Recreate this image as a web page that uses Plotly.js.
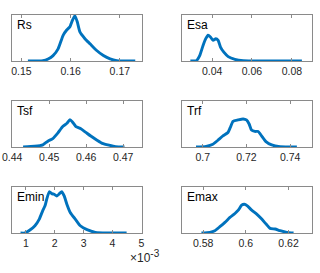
<!DOCTYPE html>
<html>
<head>
<meta charset="utf-8">
<script src="https://cdn.plot.ly/plotly-3.0.1.min.js"></script>
<style>html,body{margin:0;padding:0;background:#fff;}#chart{width:320px;height:273px;}</style>
</head>
<body>
<div id="chart"></div>
<script>
// Panel names
const names = ['Rs', 'Esa', 'Tsf', 'Trf', 'Emin', 'Emax'];

// Rs
const rsX = [0.15133,0.15440,0.15542,0.15644,0.15746,0.15848,0.15917,0.15985,0.16039,0.16087,0.16135,0.16189,0.16291,0.16394,0.16530,0.16666,0.16802,0.16939,0.17313];
const rsY = [0,1,6,16,36,76,91,101,121,134,116,86,66,51,31,16,6,1,0];
// Esa
const esaX = [0.02908,0.03210,0.03378,0.03546,0.03681,0.03798,0.03916,0.04050,0.04185,0.04303,0.04420,0.04588,0.04807,0.05143,0.05563,0.06403,0.08504];
const esaY = [0,1,16,46,66,76,71,61,66,61,41,26,13,5,1,0,0];
// Tsf
const tsfX = [0.44295,0.44607,0.44830,0.44964,0.45098,0.45232,0.45366,0.45482,0.45563,0.45634,0.45723,0.45857,0.45991,0.46125,0.46304,0.46438,0.46616,0.46795,0.47036];
const tsfY = [0,2,6,16,23,38,56,65,75,68,56,50,40,30,18,10,5,1,0];
// Trf
const trfX = [0.69692,0.70154,0.70462,0.70692,0.70923,0.71154,0.71262,0.71385,0.71615,0.71846,0.72000,0.72123,0.72231,0.72385,0.72538,0.72692,0.72892,0.73154,0.73538,0.74308];
const trfY = [0,2,8,20,33,43,58,76,80,83,80,68,50,46,46,33,16,6,1,0];
// Emin
const eminX = [0.814e-3,0.965e-3,1.140e-3,1.314e-3,1.465e-3,1.581e-3,1.663e-3,1.721e-3,1.814e-3,1.895e-3,1.977e-3,2.070e-3,2.163e-3,2.244e-3,2.326e-3,2.419e-3,2.535e-3,2.709e-3,2.884e-3,3.116e-3,3.407e-3,3.814e-3,4.488e-3];
const eminY = [0,0,9,22,42,67,82,102,125,119,117,112,119,125,112,87,62,42,22,10,2,0,0];
// Emax
const emaxX = [0.57922,0.58314,0.58549,0.58784,0.59020,0.59255,0.59490,0.59647,0.59804,0.59929,0.60071,0.60275,0.60510,0.60745,0.60949,0.61137,0.61373,0.61608,0.61922,0.62235];
const emaxY = [0,2,7,19,32,47,59,69,84,87,82,69,57,42,27,14,12,7,2,0];

// Tick values and labels
const rsTicks = [0.15, 0.16, 0.17];
const rsTickText = ['0.15', '0.16', '0.17'];
const esaTicks = [0.04, 0.06, 0.08];
const esaTickText = ['0.04', '0.06', '0.08'];
const tsfTicks = [0.44, 0.45, 0.46, 0.47];
const tsfTickText = ['0.44', '0.45', '0.46', '0.47'];
const trfTicks = [0.70, 0.72, 0.74];
const trfTickText = ['0.7', '0.72', '0.74'];
const eminTicks = [1e-3, 2e-3, 3e-3, 4e-3, 5e-3];
const eminTickText = ['1', '2', '3', '4', '5'];
const emaxTicks = [0.58, 0.60, 0.62];
const emaxTickText = ['0.58', '0.6', '0.62'];

const xs = [rsX, esaX, tsfX, trfX, eminX, emaxX];
const ys = [rsY, esaY, tsfY, trfY, eminY, emaxY];
const tv = [rsTicks, esaTicks, tsfTicks, trfTicks, eminTicks, emaxTicks];
const tt = [rsTickText, esaTickText, tsfTickText, trfTickText, eminTickText, emaxTickText];
const xr = [[0.1481,0.1745],[0.0249,0.0901],[0.43995,0.4751],[0.6905,0.7500],[0.52e-3,5.02e-3],[0.5701,0.6310]];
const yr = [[0,136],[0,136],[0,126],[0,136],[0,139],[0,139]];

const W = 320, H = 273;
const colPx = [[12,142],[182,312]];
const rowPx = [[15,61],[101,147],[187,233]];

const traces = [];
const layout = {
  width: W, height: H,
  margin: {l:0, r:0, t:0, b:0},
  paper_bgcolor: '#fff', plot_bgcolor: '#fff',
  showlegend: false,
  font: {family: 'Liberation Sans, Arial, sans-serif', size: 10, color: '#262626'},
  annotations: []
};
const axColor = '#8a8a8a';
for (let i = 0; i < 6; i++) {
  const c = i % 2, r = Math.floor(i / 2);
  const sfx = i === 0 ? '' : String(i + 1);
  traces.push({
    x: xs[i], y: ys[i], type: 'scatter', mode: 'lines',
    line: {color: '#0072BD', width: 2.9, shape: 'spline', smoothing: 0.5},
    xaxis: 'x' + sfx, yaxis: 'y' + sfx, hoverinfo: 'skip'
  });
  layout['xaxis' + sfx] = {
    domain: [colPx[c][0] / W, colPx[c][1] / W],
    anchor: 'y' + sfx,
    range: xr[i],
    tickmode: 'array', tickvals: tv[i], ticktext: tt[i],
    ticks: 'inside', ticklen: 3, tickcolor: axColor, tickwidth: 1,
    showline: true, linecolor: axColor, linewidth: 1, mirror: 'ticks',
    showgrid: false, zeroline: false,
    tickfont: {size: 10.5, color: '#262626'}
  };
  layout['yaxis' + sfx] = {
    domain: [(H - rowPx[r][1]) / H, (H - rowPx[r][0]) / H],
    anchor: 'x' + sfx,
    range: yr[i],
    showticklabels: false, ticks: '',
    showline: true, linecolor: axColor, linewidth: 1, mirror: true,
    showgrid: false, zeroline: false
  };
  layout.annotations.push({
    text: names[i], xref: 'x' + sfx + ' domain', yref: 'y' + sfx + ' domain',
    x: 0.02, y: 0.97, xanchor: 'left', yanchor: 'top', showarrow: false,
    font: {size: 12, color: '#000'}
  });
}
layout.annotations.push({
  text: '×10<sup><span style="font-size:10px">-3</span></sup>', xref: 'paper', yref: 'paper',
  x: 128 / W, y: (H - 256) / H, xanchor: 'left', yanchor: 'middle', showarrow: false,
  font: {size: 12, color: '#262626'}
});
Plotly.newPlot('chart', traces, layout, {displayModeBar: false, staticPlot: true});
</script>
</body>
</html>
